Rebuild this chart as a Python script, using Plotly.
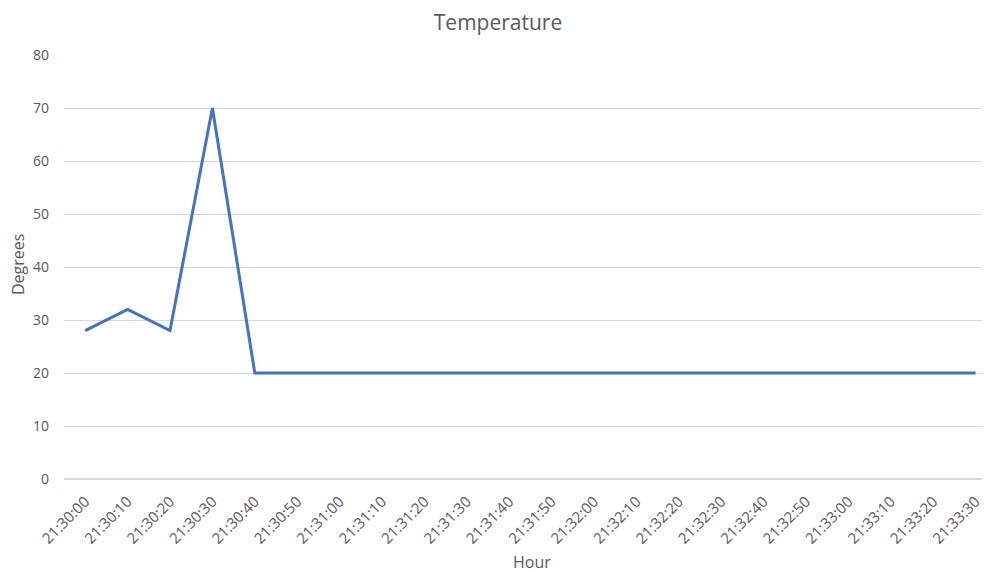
import plotly.graph_objects as go

hours = ["21:30:00", "21:30:10", "21:30:20", "21:30:30", "21:30:40", "21:30:50",
         "21:31:00", "21:31:10", "21:31:20", "21:31:30", "21:31:40", "21:31:50",
         "21:32:00", "21:32:10", "21:32:20", "21:32:30", "21:32:40", "21:32:50",
         "21:33:00", "21:33:10", "21:33:20", "21:33:30"]
degrees = [28, 32, 28, 70, 20, 20, 20, 20, 20, 20, 20, 20,
           20, 20, 20, 20, 20, 20, 20, 20, 20, 20]
y_ticks = [0, 10, 20, 30, 40, 50, 60, 70, 80]

font_family = "Open Sans, Liberation Sans, sans-serif"
grey = "#595959"

# page body has an 8px margin, so the figure is drawn 8px right/down
OFF = 8
W, H = 990 - OFF, 572 - OFF
ML, MR, MT, MB = 64 - OFF, 0, 55 - OFF, 572 - 479
PW, PH = W - ML - MR, H - MT - MB

fig = go.Figure()
fig.add_trace(go.Scatter(
    x=list(range(len(hours))), y=degrees, mode="lines",
    line=dict(color="#4472C4", width=3),
    showlegend=False,
))

fig.update_layout(
    width=W, height=H,
    paper_bgcolor="white", plot_bgcolor="white",
    margin=dict(l=ML, r=MR, t=MT, b=MB, autoexpand=False),
    title=dict(text="Temperature", x=(498 - OFF) / W, xanchor="center",
               y=1 - (23 - OFF) / H, yanchor="middle",
               font=dict(family=font_family, size=21, color=grey)),
    font=dict(family=font_family, color=grey),
    annotations=[
        dict(text="Hour", xref="paper", yref="paper",
             x=(532 - OFF - ML) / PW, y=-(562 - 479) / PH,
             xanchor="center", yanchor="middle", showarrow=False,
             font=dict(family=font_family, size=16, color=grey)),
        dict(text="Degrees", xref="paper", yref="paper", textangle=-90,
             x=-(ML - (18 - OFF)) / PW, y=(479 - 265) / PH,
             xanchor="center", yanchor="middle", showarrow=False,
             font=dict(family=font_family, size=16, color=grey)),
    ],
)
fig.update_xaxes(
    tickmode="array", tickvals=list(range(len(hours))), ticktext=hours,
    tickangle=-45, tickfont=dict(size=15, color=grey),
    range=[-0.5, 21.34], showgrid=False, zeroline=False, showline=False,
    automargin=False, ticks="", ticklabelstandoff=10,
)
fig.update_yaxes(
    tickmode="array", tickvals=y_ticks, range=[0, 80],
    tickfont=dict(size=14, color=grey),
    showgrid=True, gridcolor="#D9D9D9", gridwidth=1,
    zeroline=True, zerolinecolor="#D9D9D9", showline=False,
    ticks="", ticklabelstandoff=14, automargin=False,
)

fig.write_html("out.html")
